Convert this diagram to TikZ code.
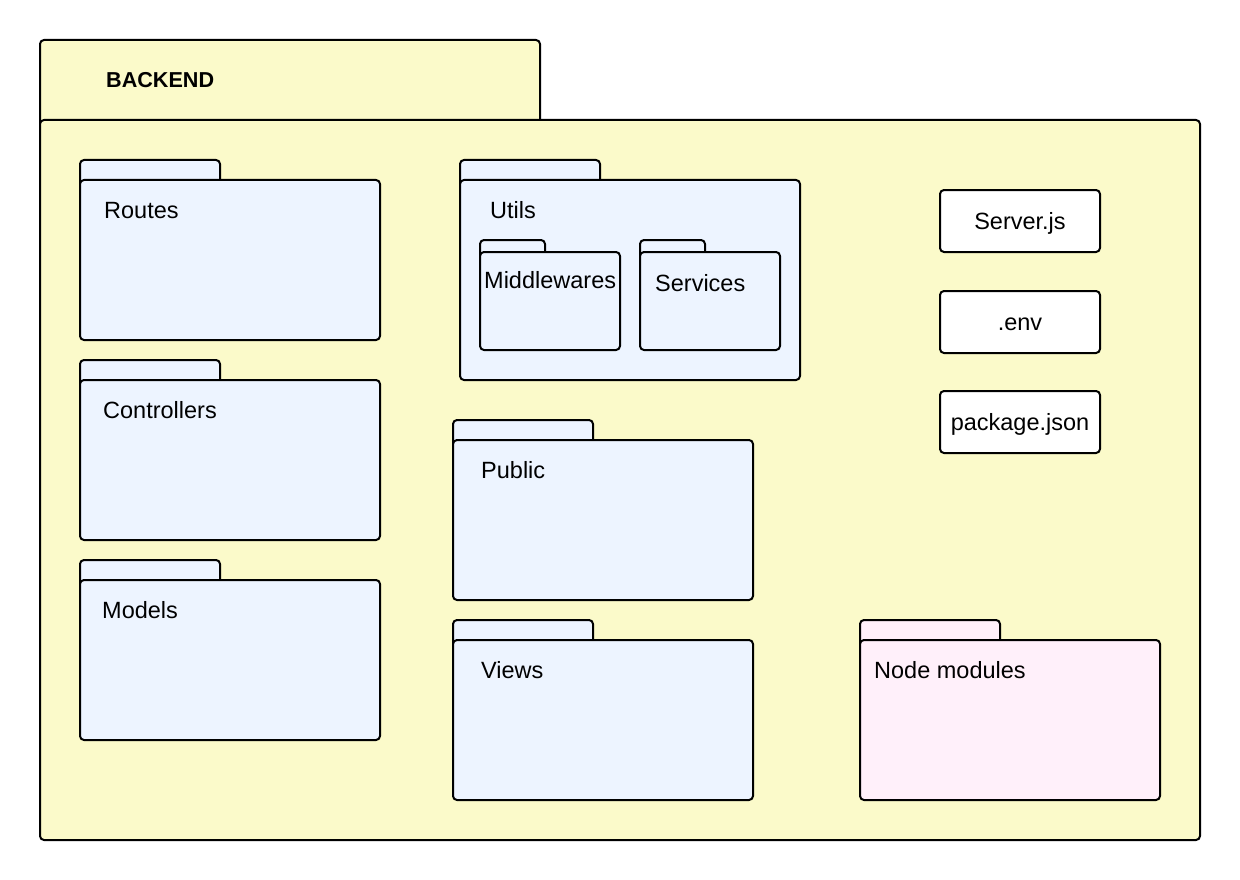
\documentclass[tikz,border=0pt]{standalone}
\usepackage{fontspec}
\setmainfont{Liberation Sans}
\definecolor{backyellow}{HTML}{FBFACA}
\definecolor{folderblue}{HTML}{EDF4FF}
\definecolor{folderpink}{HTML}{FFF0FA}
\tikzset{
  outline/.style={draw=black, line width=2pt, rounded corners=4pt},
  bodybox/.style={outline, anchor=north west, inner sep=0pt, outer sep=0pt, minimum width=#1},
  lbl/.style={anchor=base west, inner sep=0pt, font=\fontsize{23.5}{28}\selectfont},
  filebox/.style={outline, fill=white, minimum width=160pt, minimum height=62pt, inner sep=0pt, outer sep=0pt, text height=17pt, text depth=0pt, font=\fontsize{23.5}{28}\selectfont},
}
% \folderdraw{name}{x1}{tabtop}{bodytop}{tabright}{x2}{y2}{fill}
\newcommand{\folderdraw}[8]{%
  \draw[outline, fill=#8] (#2,#3) rectangle (#5,#4+6);
  \node[bodybox={#6pt-#2pt}, minimum height={#7pt-#4pt}, fill=#8] (#1) at (#2,#4) {};
}
\begin{document}
\begin{tikzpicture}[x=1pt,y=-1pt]
\useasboundingbox[fill=white] (0,0) rectangle (1240,880);
% Backend package
\draw[outline, fill=backyellow] (40,40) rectangle (540,126);
\node[outline, fill=backyellow, anchor=north west, inner sep=0pt, outer sep=0pt, minimum width=1160pt, minimum height=720pt] (backend) at (40,120) {};
\node[anchor=base west, inner sep=0pt, font=\fontsize{21.6}{26}\selectfont\bfseries] (backendlbl) at (106,87.8) {BACKEND};
% left column
\folderdraw{routes}{80}{160}{180}{220}{380}{340}{folderblue}
\node[lbl] (routeslbl) at (104,218.5) {Routes};
\folderdraw{controllers}{80}{360}{380}{220}{380}{540}{folderblue}
\node[lbl] (controllerslbl) at (103,418.5) {Controllers};
\folderdraw{models}{80}{560}{580}{220}{380}{740}{folderblue}
\node[lbl] (modelslbl) at (102,618.5) {Models};
% utils
\folderdraw{utils}{460}{160}{180}{600}{800}{380}{folderblue}
\node[lbl] (utilslbl) at (490,218.5) {Utils};
\folderdraw{middlewares}{480}{240}{252}{545}{620}{350}{folderblue}
\node[lbl] (middlewareslbl) at (484,288.5) {Middlewares};
\folderdraw{services}{640}{240}{252}{705}{780}{350}{folderblue}
\node[lbl] (serviceslbl) at (655,291.5) {Services};
% public, views
\folderdraw{public}{453}{420}{440}{593}{753}{600}{folderblue}
\node[lbl] (publiclbl) at (481,478.5) {Public};
\folderdraw{views}{453}{620}{640}{593}{753}{800}{folderblue}
\node[lbl] (viewslbl) at (481,678.5) {Views};
% node modules
\folderdraw{nodemodules}{860}{620}{640}{1000}{1160}{800}{folderpink}
\node[lbl] (nodemoduleslbl) at (874,678.5) {Node modules};
% files
\node[filebox] (server) at (1020,221) {Server.js};
\node[filebox] (env) at (1020,322) {.env};
\node[filebox] (package) at (1020,422) {package.json};
\end{tikzpicture}
\end{document}
